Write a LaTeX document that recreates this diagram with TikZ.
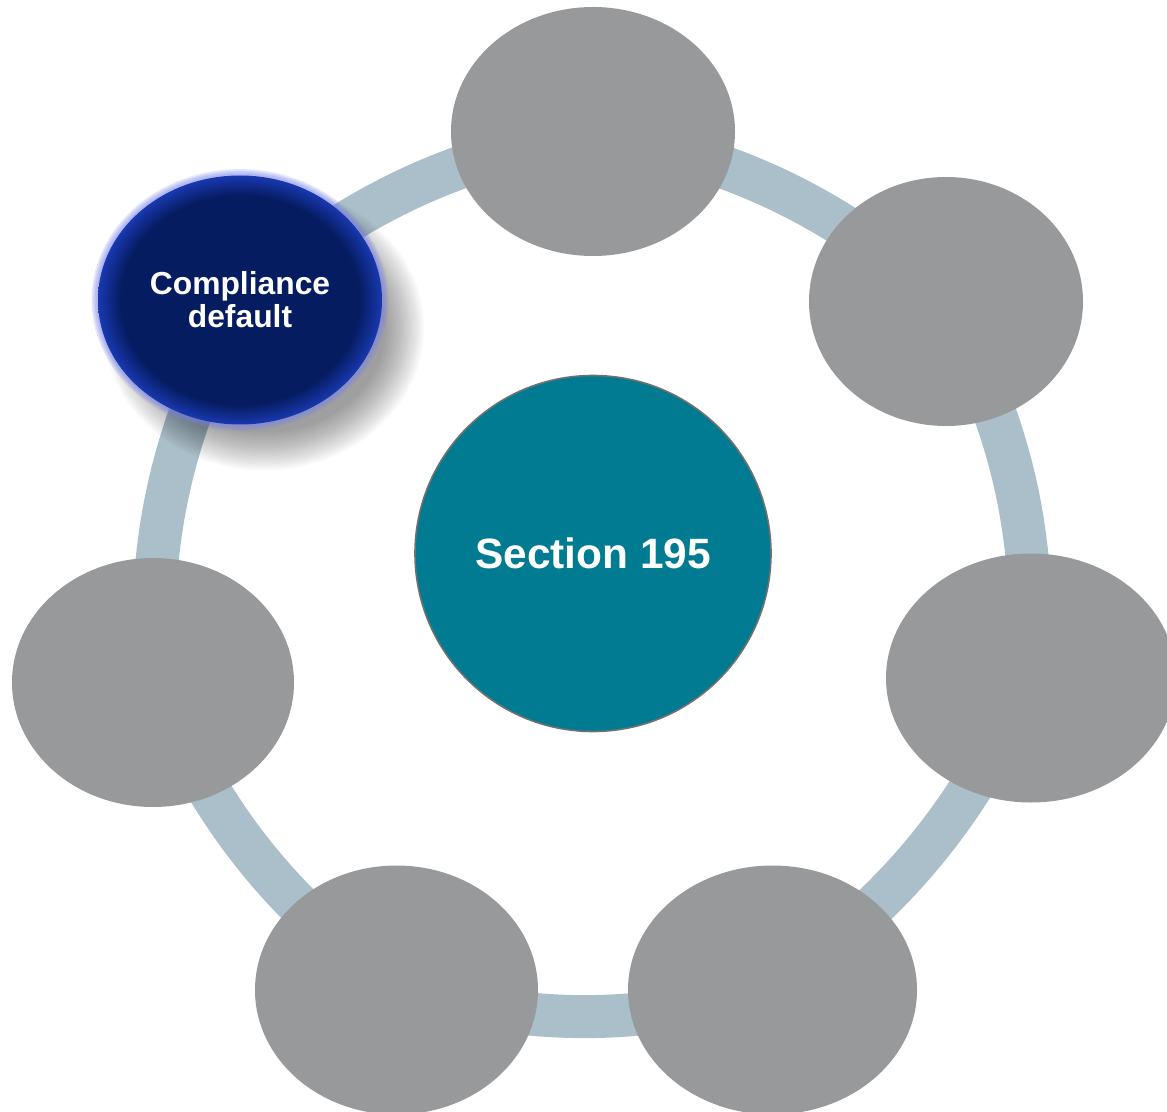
\documentclass[tikz,border=0pt]{standalone}
\usepackage{fontspec}
\newfontfamily\labelfont{Liberation Sans}
\usetikzlibrary{shapes.geometric,backgrounds}

\definecolor{ringblue}{RGB}{170,191,201}
\definecolor{stagegray}{RGB}{152,153,155}
\definecolor{hubteal}{RGB}{0,123,145}
\definecolor{hubrim}{RGB}{112,112,112}
\definecolor{navy}{RGB}{6,28,96}
\definecolor{navyrim}{RGB}{24,56,176}
\definecolor{halo}{RGB}{120,130,232}

\pgfdeclareradialshading{navyfill}{\pgfpointorigin}{color(0bp)=(navy); color(21bp)=(navy); color(25bp)=(navyrim); color(50bp)=(navyrim)}

\tikzset{
  ring/.style={line width=21.5pt, ringblue},
  stage/.style={ellipse, fill=stagegray, inner sep=0pt, minimum height=124.5pt},
  hub/.style={circle, fill=hubteal, draw=hubrim, line width=0.8pt, minimum size=178pt, inner sep=0pt,
    text=white, font=\labelfont\bfseries\fontsize{21.2}{24}\selectfont},
  active/.style={ellipse, shading=navyfill, inner sep=0pt, minimum width=142pt, minimum height=124.5pt,
    align=center, text=white, font=\labelfont\bfseries\fontsize{15.9}{16.6}\selectfont}
}

\begin{document}
\begin{tikzpicture}[x=0.5pt,y=0.5pt]
    \useasboundingbox (0,0) rectangle (1167,-1112);
    \coordinate (ulpos) at (240,-300);
    % Shadow and halo of the active stage
    \foreach \k in {0,...,19}
        \fill[black, opacity=0.022] ([shift={(24,-28)}]ulpos) ellipse [x radius=160-2*\k, y radius=142.5-2*\k];
    \foreach \k in {1,...,4}
        \fill[halo, opacity=0.2] (ulpos) ellipse [x radius=142+1.6*\k, y radius=124.5+1.6*\k];
    %
    \node[active] (nul) at (ulpos) {Compliance\\default};
    \node[stage, minimum width=142pt] (ntop) at (593,-131.5) {};
    \node[stage, minimum width=137pt] (nur) at (946,-301.5) {};
    \node[stage, minimum width=145pt] (nr) at (1031,-678) {};
    \node[stage, minimum width=144.5pt] (nbr) at (772.5,-990) {};
    \node[stage, minimum width=141.5pt] (nbl) at (396.5,-990) {};
    \node[stage, minimum width=141pt] (nl) at (153,-682.5) {};
    %
    \node[hub] (hub) at (593,-553.5) {Section 195};
    % Ring
    \begin{scope}[on background layer]
    \draw[ring] (nul.center) to[bend left=14] (ntop.center);
    \draw[ring] (ntop.center) to[bend left=14] (nur.center);
    \draw[ring] (nur.center) to[bend left=14] (nr.center);
    \draw[ring] (nr.center) to[bend left=14] (nbr.center);
    \draw[ring] (nbr.center) to[bend left=14] (nbl.center);
    \draw[ring] (nbl.center) to[bend left=14] (nl.center);
    \draw[ring] (nl.center) to[bend left=14] (nul.center);
    \end{scope}
\end{tikzpicture}
\end{document}
